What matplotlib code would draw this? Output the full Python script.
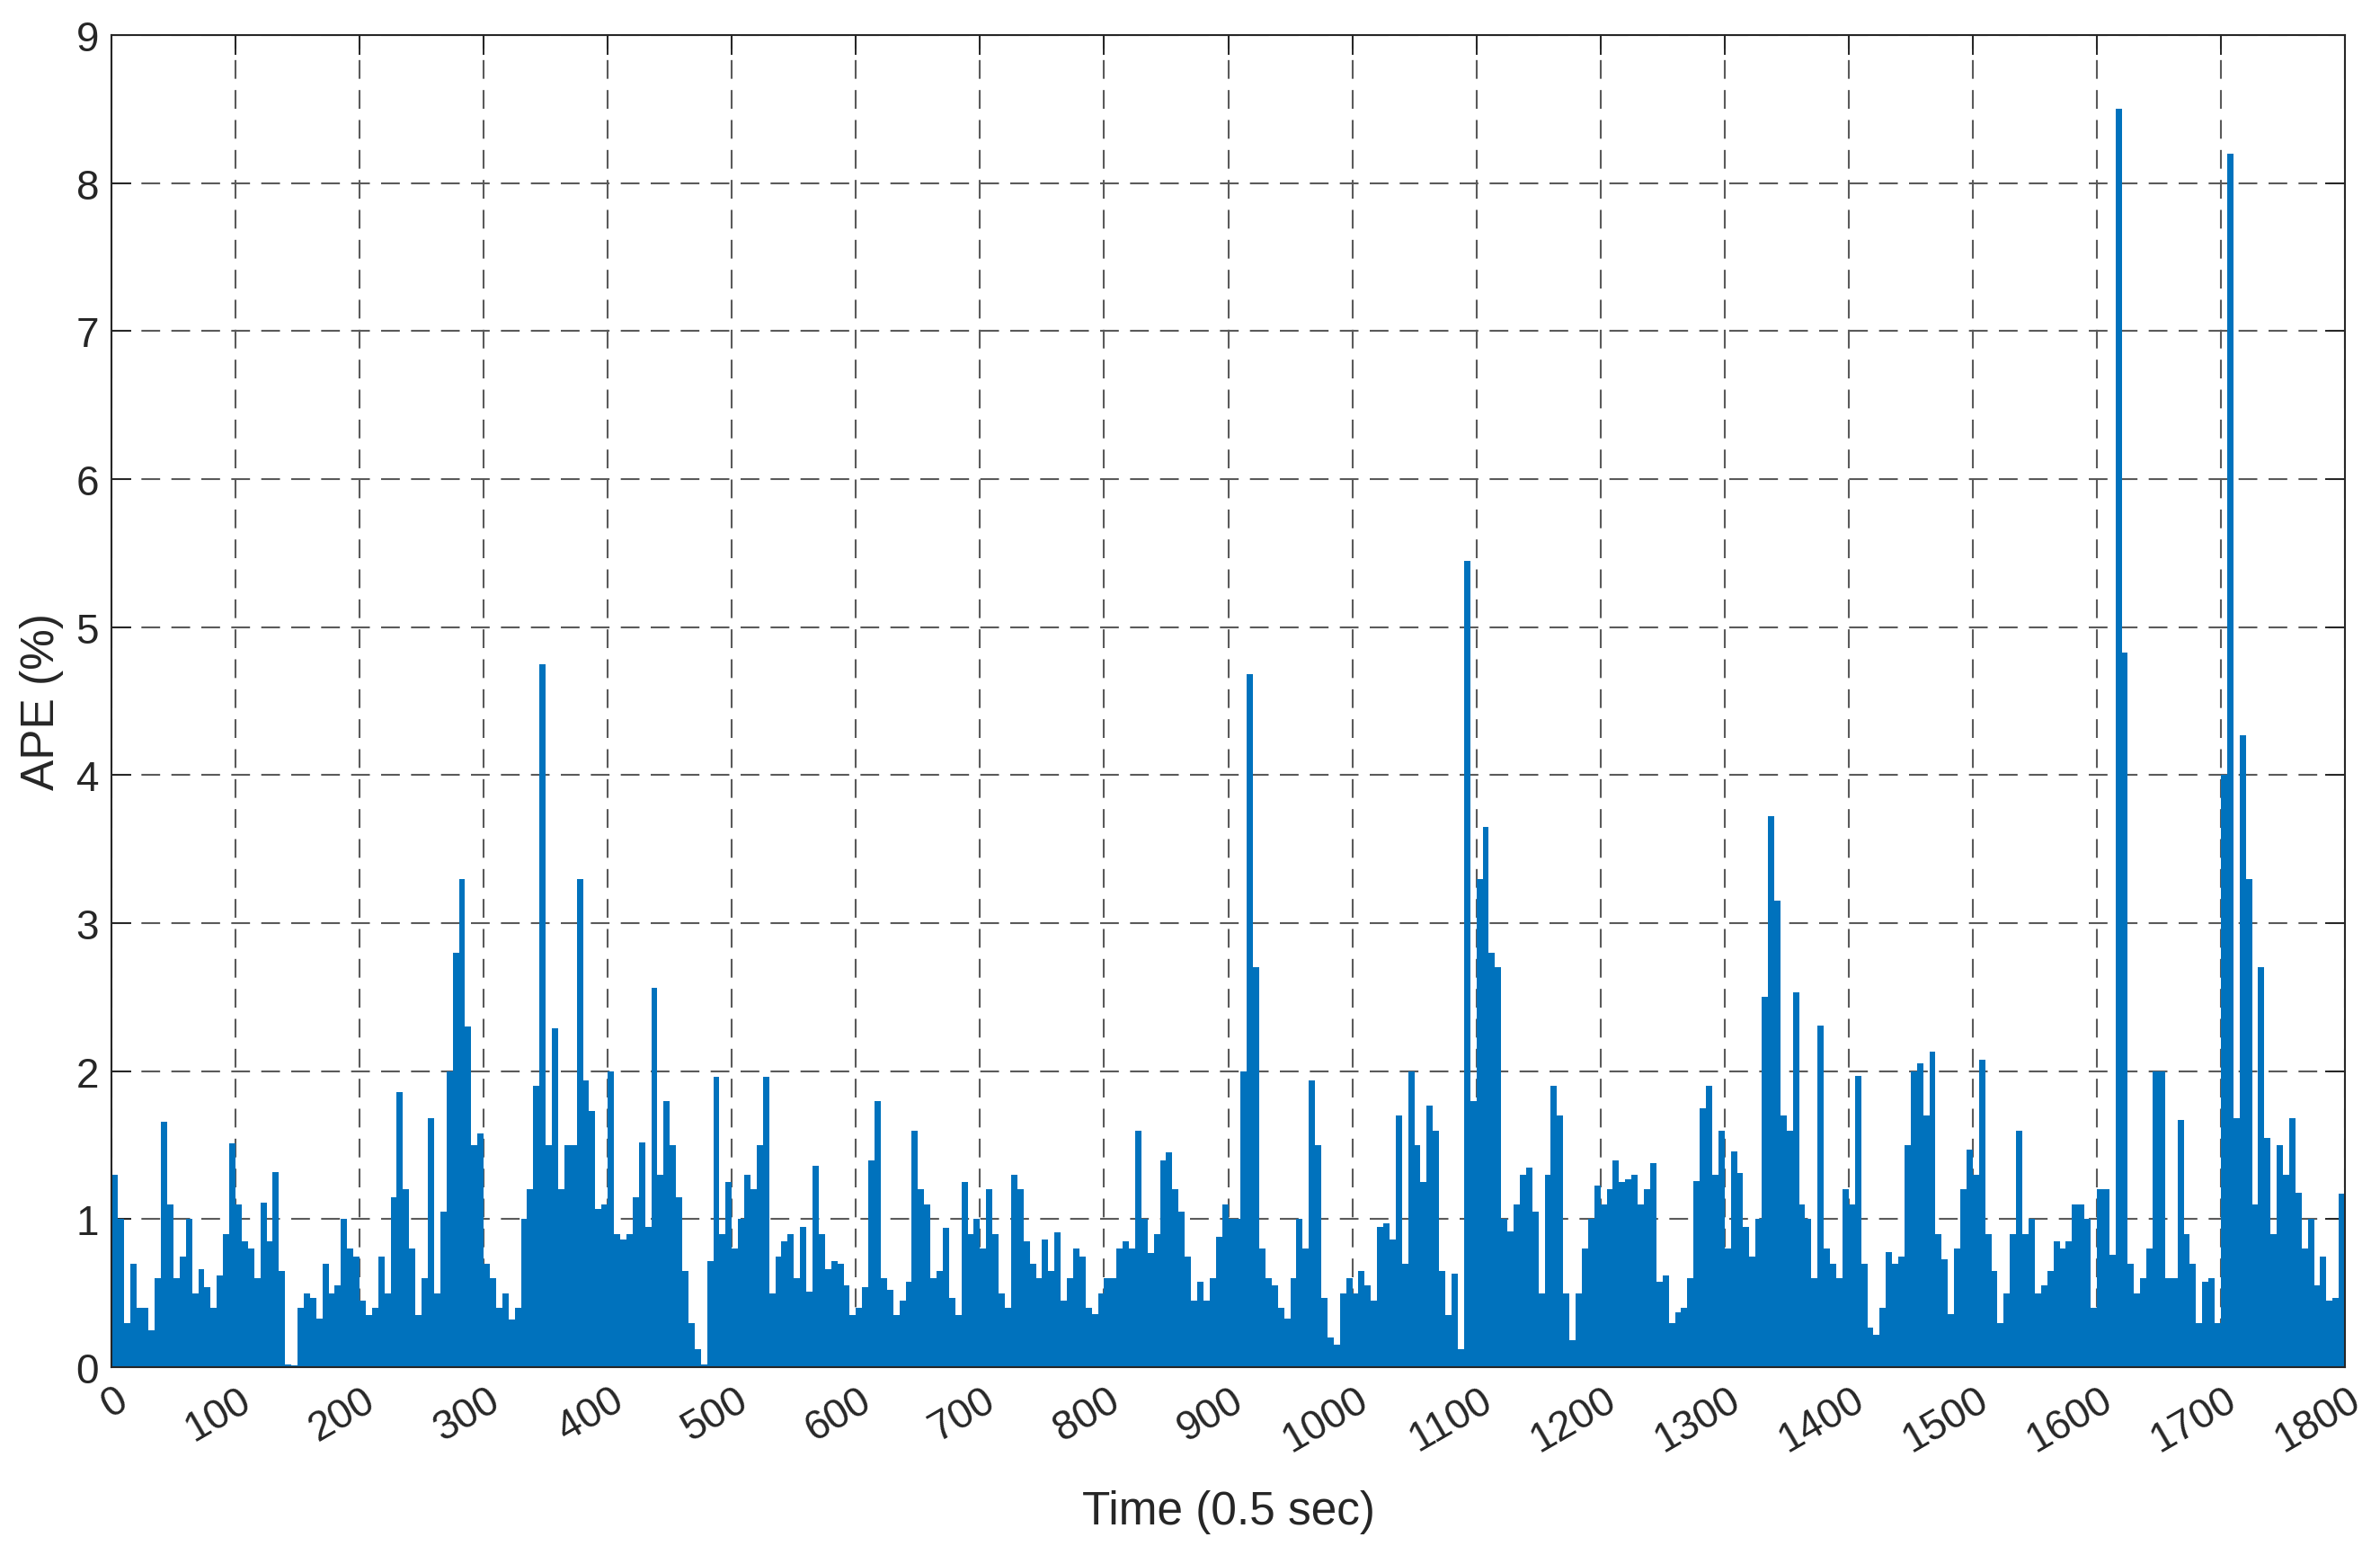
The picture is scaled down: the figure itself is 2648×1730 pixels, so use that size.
import numpy as np
import matplotlib
matplotlib.use('Agg')
from matplotlib import pyplot as plt
from matplotlib.transforms import ScaledTranslation

# APE values, one per 5 samples in 150-sample pieces
ape_0_150 = [1.3, 1.0, 0.3, 0.7, 0.4, 0.4, 0.25, 0.6, 1.66, 1.1, 0.6, 0.75, 1.0, 0.5, 0.66,
             0.54, 0.4, 0.62, 0.9, 1.51, 1.1, 0.85, 0.8, 0.6, 1.11, 0.85, 1.32, 0.65, 0.02, 0.01]
ape_150_300 = [0.4, 0.5, 0.47, 0.33, 0.7, 0.5, 0.55, 1.0, 0.8, 0.75, 0.45, 0.35, 0.4, 0.75, 0.5,
               1.15, 1.86, 1.2, 0.8, 0.35, 0.6, 1.68, 0.5, 1.05, 2.0, 2.8, 3.3, 2.3, 1.5, 1.58]
ape_300_450 = [0.7, 0.6, 0.4, 0.5, 0.32, 0.4, 1.0, 1.2, 1.9, 4.75, 1.5, 2.29, 1.2, 1.5, 1.5,
               3.3, 1.94, 1.73, 1.07, 1.1, 2.0, 0.9, 0.86, 0.9, 1.15, 1.52, 0.95, 2.56, 1.3, 1.8]
ape_450_600 = [1.5, 1.15, 0.65, 0.3, 0.12, 0.02, 0.72, 1.96, 0.9, 1.25, 0.8, 1.0, 1.3, 1.2, 1.5,
               1.96, 0.5, 0.75, 0.85, 0.9, 0.6, 0.95, 0.51, 1.36, 0.9, 0.66, 0.72, 0.7, 0.55, 0.35]
ape_600_750 = [0.4, 0.54, 1.4, 1.8, 0.6, 0.52, 0.35, 0.45, 0.58, 1.6, 1.2, 1.1, 0.6, 0.65, 0.94,
               0.47, 0.35, 1.25, 0.9, 1.0, 0.8, 1.2, 0.9, 0.5, 0.4, 1.3, 1.2, 0.85, 0.7, 0.6]
ape_750_900 = [0.86, 0.65, 0.91, 0.45, 0.6, 0.8, 0.75, 0.4, 0.36, 0.5, 0.6, 0.6, 0.8, 0.85, 0.8,
               1.6, 1.0, 0.77, 0.9, 1.4, 1.45, 1.2, 1.05, 0.75, 0.45, 0.58, 0.45, 0.6, 0.88, 1.1]
ape_900_1050 = [1.0, 1.0, 2.0, 4.68, 2.7, 0.8, 0.6, 0.55, 0.4, 0.33, 0.6, 1.0, 0.8, 1.94, 1.5,
                0.47, 0.2, 0.15, 0.5, 0.6, 0.5, 0.65, 0.55, 0.45, 0.95, 0.97, 0.86, 1.7, 0.7, 2.0]
ape_1050_1200 = [1.5, 1.25, 1.77, 1.6, 0.65, 0.35, 0.63, 0.12, 5.45, 1.8, 3.3, 3.65, 2.8, 2.7, 1.0,
                 0.92, 1.1, 1.3, 1.35, 1.05, 0.5, 1.3, 1.9, 1.7, 0.5, 0.18, 0.5, 0.8, 1.0, 1.23]
ape_1200_1350 = [1.1, 1.2, 1.4, 1.25, 1.27, 1.3, 1.1, 1.2, 1.38, 0.58, 0.62, 0.3, 0.37, 0.4, 0.6,
                 1.26, 1.75, 1.9, 1.3, 1.6, 0.8, 1.46, 1.31, 0.95, 0.75, 1.0, 2.5, 3.72, 3.15, 1.7]
ape_1350_1500 = [1.6, 2.53, 1.1, 1.0, 0.6, 2.31, 0.8, 0.7, 0.6, 1.2, 1.1, 1.97, 0.7, 0.27, 0.22,
                 0.4, 0.78, 0.7, 0.75, 1.5, 2.0, 2.05, 1.7, 2.13, 0.9, 0.73, 0.36, 0.8, 1.2, 1.47]
ape_1500_1650 = [1.3, 2.08, 0.9, 0.65, 0.3, 0.5, 0.9, 1.6, 0.9, 1.0, 0.5, 0.55, 0.65, 0.85, 0.8,
                 0.85, 1.1, 1.1, 1.0, 0.4, 1.2, 1.2, 0.76, 8.5, 4.83, 0.7, 0.5, 0.6, 0.8, 2.0]
ape_1650_1800 = [2.0, 0.6, 0.6, 1.67, 0.9, 0.7, 0.3, 0.58, 0.6, 0.3, 4.0, 8.2, 1.68, 4.27, 3.3,
                 1.1, 2.7, 1.55, 0.9, 1.5, 1.3, 1.68, 1.18, 0.8, 1.0, 0.55, 0.75, 0.45, 0.47, 1.17]

step = 5
ape = np.concatenate([ape_0_150, ape_150_300, ape_300_450, ape_450_600, ape_600_750,
                      ape_750_900, ape_900_1050, ape_1050_1200, ape_1200_1350,
                      ape_1350_1500, ape_1500_1650, ape_1650_1800])
t = np.arange(len(ape)) * step

xticks = np.arange(0, 1801, 100)
yticks = np.arange(0, 10, 1)

plt.rcParams['font.family'] = ['Liberation Sans', 'DejaVu Sans']
dark = '#262626'

fig = plt.figure(figsize=(26.48, 17.31), dpi=100)
ax = fig.add_axes([0.0468, 0.1207, 0.9385, 0.8562])
ax.bar(t, ape, width=step, align='edge', color='#0072BD', linewidth=0, zorder=2)

ax.set_xlim(0, 1800)
ax.set_ylim(0, 9)
ax.set_xticks(xticks)
ax.set_yticks(yticks)

ax.grid(True, color='#5a5a5a', linestyle=(0, (10, 6)), linewidth=1.5, zorder=1)
ax.set_axisbelow(True)
ax.tick_params(direction='in', length=16, width=1.4, top=True, right=True,
               labelsize=33, colors=dark, pad=10)
for s in ax.spines.values():
    s.set_linewidth(1.5)
    s.set_color(dark)
    s.set_zorder(3)

ax.set_xticklabels([str(v) for v in xticks], rotation=30, ha='right', va='center',
                   rotation_mode='anchor')
# matlab puts the rotated labels a bit lower and to the right
shift = ScaledTranslation(0.14, -0.19, fig.dpi_scale_trans)
for lab in ax.get_xticklabels():
    lab.set_transform(lab.get_transform() + shift)

ax.set_xlabel('Time (0.5 sec)', fontsize=37, color=dark, labelpad=24)
ax.set_ylabel('APE (%)', fontsize=37, color=dark, labelpad=10)

plt.savefig('out.png', dpi=100)
plt.close()
